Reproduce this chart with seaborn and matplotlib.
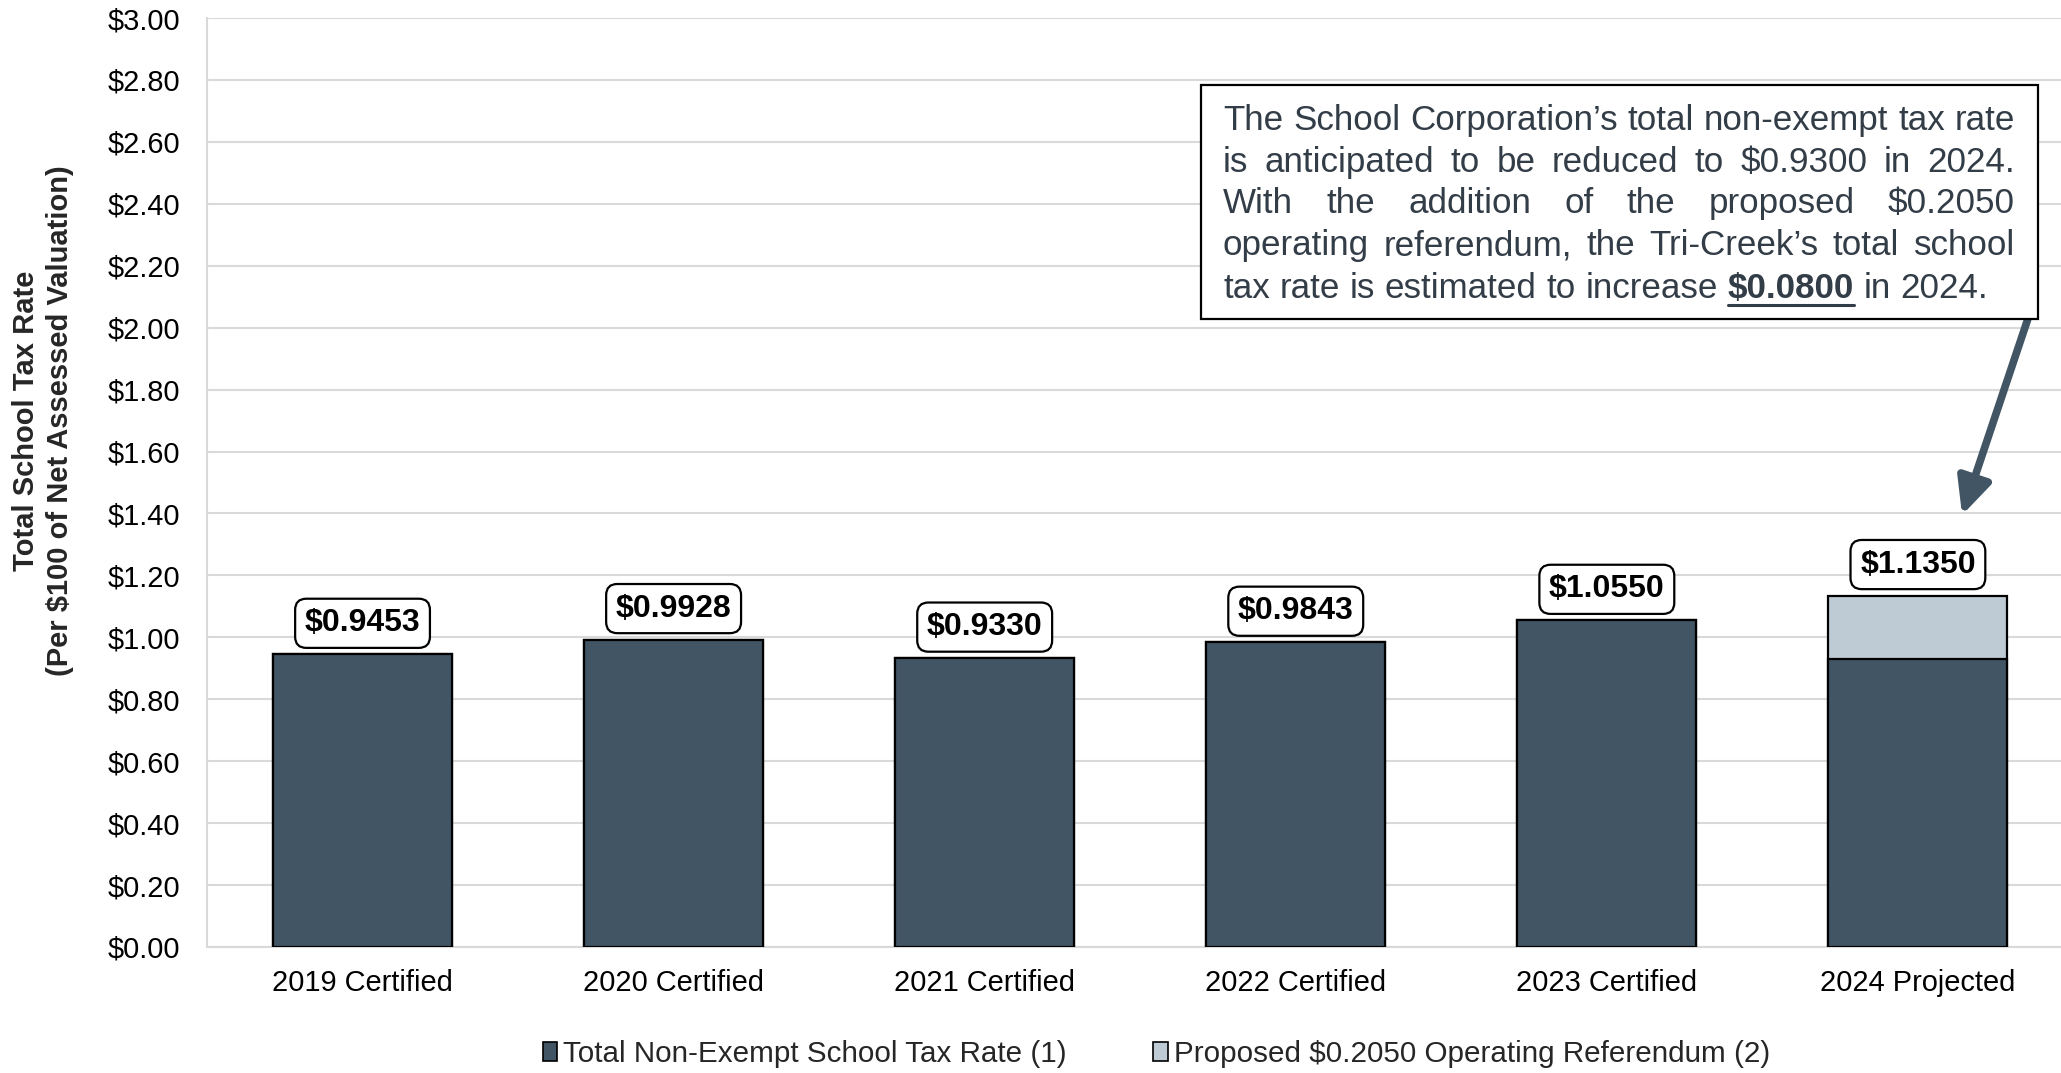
import matplotlib
matplotlib.use("Agg")
import matplotlib.pyplot as plt
import pandas as pd
import seaborn as sns
from matplotlib.patches import Patch, Rectangle, ArrowStyle
from matplotlib.lines import Line2D

# ---- data -------------------------------------------------------------
categories = ["2019 Certified", "2020 Certified", "2021 Certified",
              "2022 Certified", "2023 Certified", "2024 Projected"]
base_rate = [0.9453, 0.9928, 0.9330, 0.9843, 1.0550, 0.9300]
referendum_rate = [0.0, 0.0, 0.0, 0.0, 0.0, 0.2050]
y_ticks = [0.0, 0.2, 0.4, 0.6, 0.8, 1.0, 1.2, 1.4, 1.6, 1.8, 2.0,
           2.2, 2.4, 2.6, 2.8, 3.0]
series_names = ["Total Non-Exempt School Tax Rate (1)",
                "Proposed $0.2050 Operating Referendum (2)"]
note_lines = [
    "The School Corporation\u2019s total non-exempt tax rate",
    "is anticipated to be reduced to $0.9300 in 2024.",
    "With the addition of the proposed $0.2050",
    "operating referendum, the Tri-Creek\u2019s total school",
]
note_last = [("tax rate is estimated to increase", "normal"),
             ("$0.0800", "bold"),
             ("in 2024.", "normal")]

# ---- style ------------------------------------------------------------
DARK = "#415564"
LIGHT = "#BFCBD4"
GRID = "#D9D9D9"
NOTE_COLOR = "#333D47"
W, H = 2061, 1073

sns.set_style("white")
plt.rcParams["font.family"] = ["Liberation Sans", "DejaVu Sans"]

total_rate = [b + r for b, r in zip(base_rate, referendum_rate)]
df = pd.DataFrame({"category": categories, "base": base_rate,
                   "total": total_rate})

fig = plt.figure(figsize=(W / 100, H / 100), dpi=100)
ax = fig.add_axes([207 / W, 1 - 947 / H, 1 - 207 / W, (947 - 18) / H])

bar_kw = dict(saturation=1, width=0.575, edgecolor="black", linewidth=1.6,
              errorbar=None, ax=ax, zorder=3)
# stacked bars: full total in light, base drawn over it in dark
sns.barplot(data=df, x="category", y="total", color=LIGHT, **bar_kw)
sns.barplot(data=df, x="category", y="base", color=DARK, **bar_kw)

ax.set_xlim(-0.5, 5.46)
ax.set_ylim(0, 3.0)
ax.set_yticks(y_ticks)
ax.set_yticklabels([f"${v:.2f}" for v in y_ticks])
ax.set_axisbelow(True)
ax.grid(axis="y", color=GRID, linewidth=1.5)
ax.grid(axis="x", visible=False)
for side in ("top", "right"):
    ax.spines[side].set_visible(False)
for side in ("left", "bottom"):
    ax.spines[side].set_color(GRID)
    ax.spines[side].set_linewidth(1.5)
ax.tick_params(axis="y", length=0, labelsize=20.9, pad=19, labelcolor="black")
ax.tick_params(axis="x", length=0, labelsize=20.9, pad=16, labelcolor="black")
ax.set_xlabel("")
ax.set_ylabel("")

fig.text(43 / W, 1 - 421 / H,
         "Total School Tax Rate\n(Per \\$100 of Net Assessed Valuation)",
         rotation=90, ha="center", va="center", multialignment="center",
         fontsize=21, fontweight="bold", linespacing=1.23)

# value labels above each bar
for i, tot in enumerate(total_rate):
    ax.annotate(f"\\${tot:.4f}", xy=(i, tot), xytext=(0, 11.5),
                textcoords="offset points", ha="center", va="bottom",
                fontsize=23, fontweight="bold", color="black", zorder=6,
                bbox=dict(boxstyle="round,pad=0.3,rounding_size=0.35",
                          fc="white", ec="black", lw=1.6))

# legend
handles = [Patch(facecolor=DARK, edgecolor="black", linewidth=1.2),
           Patch(facecolor=LIGHT, edgecolor="black", linewidth=1.2)]
fig.legend(handles, [s.replace("$", "\\$") for s in series_names],
           loc="center", bbox_to_anchor=(0.561, 1 - 1054 / H), ncol=2,
           frameon=False, fontsize=21.3, handlelength=0.5, handleheight=0.6,
           handletextpad=0.2, columnspacing=2.9)

# arrow from the note to the projected bar
ax.annotate("", xy=(5.142, 1.395), xytext=(5.354, 2.03),
            arrowprops=dict(arrowstyle=ArrowStyle("-|>", head_length=0.55,
                                                  head_width=0.26),
                            mutation_scale=40, lw=5.5, color=DARK,
                            shrinkA=0, shrinkB=0), zorder=4)

# note box
fig.patches.append(Rectangle((1201 / W, 1 - 319 / H), (2038 - 1201) / W,
                             (319 - 85) / H, transform=fig.transFigure,
                             facecolor="white", edgecolor="black",
                             linewidth=1.6, zorder=1))

NOTE_FS = 25.2
left_px, right_px = 1223, 2015
baselines = [130, 172, 213, 255, 298]

fig.canvas.draw()
renderer = fig.canvas.get_renderer()


def word_width(s, weight="normal"):
    t = fig.text(0, 0, s.replace("$", "\\$"), fontsize=NOTE_FS,
                 fontweight=weight)
    w = t.get_window_extent(renderer).width
    t.remove()
    return w


def put_word(x_px, y_px, s, weight="normal"):
    fig.text(x_px / W, 1 - y_px / H, s.replace("$", "\\$"),
             fontsize=NOTE_FS, fontweight=weight, color=NOTE_COLOR,
             ha="left", va="baseline", zorder=4)


# justified lines
for line, base_y in zip(note_lines, baselines[:4]):
    words = line.split(" ")
    widths = [word_width(w) for w in words]
    gap = (right_px - left_px - sum(widths)) / (len(words) - 1)
    x = left_px
    for w, wd in zip(words, widths):
        put_word(x, base_y, w)
        x += wd + gap

# final line, left aligned with an underlined bold amount
space_w = word_width("a a") - 2 * word_width("a")
x = left_px
for seg, weight in note_last:
    for w in seg.split(" "):
        wd = word_width(w, weight)
        put_word(x, baselines[4], w, weight)
        if weight == "bold":
            fig.add_artist(Line2D([x / W, (x + wd) / W],
                                  [1 - (baselines[4] + 7) / H] * 2,
                                  transform=fig.transFigure,
                                  color=NOTE_COLOR, linewidth=2.2, zorder=4))
        x += wd + space_w

fig.savefig("out.png", dpi=100)
